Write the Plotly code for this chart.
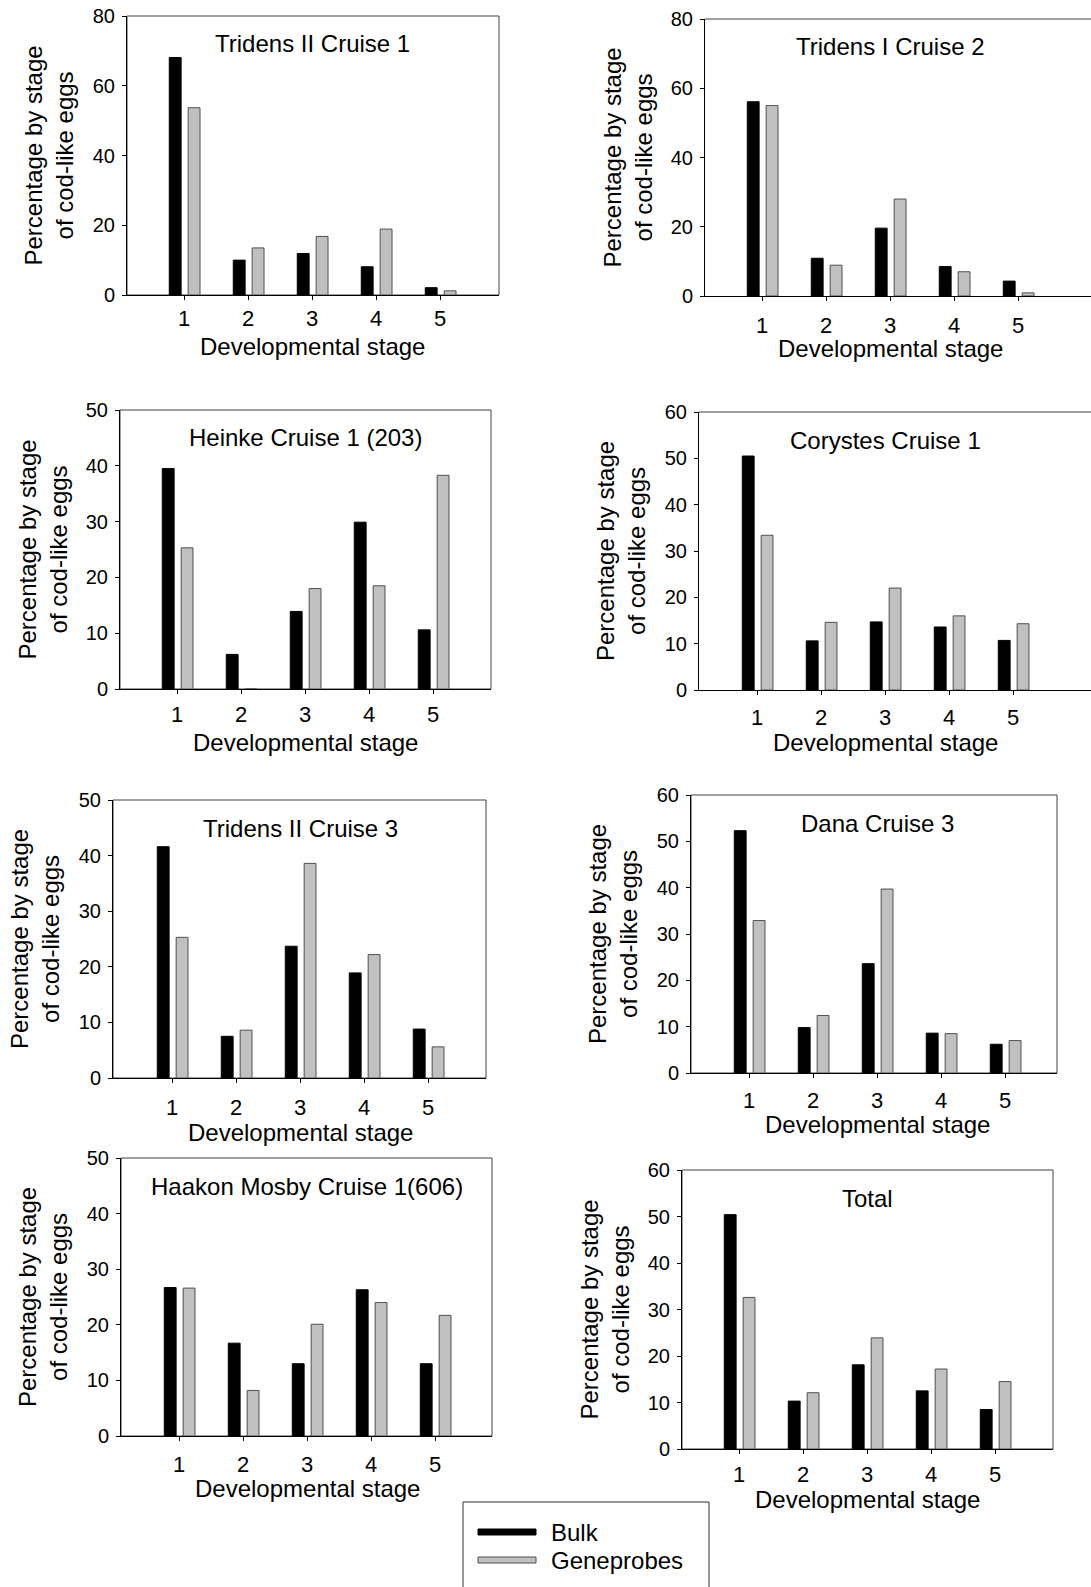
import plotly.graph_objects as go

W, H = 1091, 1587

stages = [1, 2, 3, 4, 5]

titles = ["Tridens II Cruise 1", "Tridens I Cruise 2", "Heinke Cruise 1 (203)",
          "Corystes Cruise 1", "Tridens II Cruise 3", "Dana Cruise 3",
          "Haakon Mosby Cruise 1(606)", "Total"]

bulk_tridens2_c1 = [68.1, 10.0, 11.9, 8.1, 2.1]
gene_tridens2_c1 = [53.7, 13.5, 16.8, 18.9, 1.2]
bulk_tridens1_c2 = [56.1, 10.9, 19.6, 8.5, 4.3]
gene_tridens1_c2 = [55.0, 8.9, 28.0, 7.0, 0.9]
bulk_heinke_c1 = [39.5, 6.2, 13.9, 29.9, 10.6]
gene_heinke_c1 = [25.3, 0.0, 18.0, 18.5, 38.3]
bulk_corystes_c1 = [50.5, 10.6, 14.7, 13.6, 10.7]
gene_corystes_c1 = [33.4, 14.6, 22.0, 16.0, 14.3]
bulk_tridens2_c3 = [41.6, 7.5, 23.7, 18.9, 8.8]
gene_tridens2_c3 = [25.3, 8.6, 38.6, 22.2, 5.6]
bulk_dana_c3 = [52.3, 9.8, 23.6, 8.6, 6.2]
gene_dana_c3 = [32.9, 12.4, 39.7, 8.5, 7.0]
bulk_haakon_c1 = [26.7, 16.7, 13.0, 26.3, 13.0]
gene_haakon_c1 = [26.6, 8.2, 20.1, 24.0, 21.7]
bulk_total = [50.4, 10.3, 18.1, 12.5, 8.5]
gene_total = [32.6, 12.1, 23.9, 17.2, 14.5]

bulk_series = [bulk_tridens2_c1, bulk_tridens1_c2, bulk_heinke_c1, bulk_corystes_c1,
               bulk_tridens2_c3, bulk_dana_c3, bulk_haakon_c1, bulk_total]
gene_series = [gene_tridens2_c1, gene_tridens1_c2, gene_heinke_c1, gene_corystes_c1,
               gene_tridens2_c3, gene_dana_c3, gene_haakon_c1, gene_total]
y_max = [80, 80, 50, 60, 50, 60, 50, 60]
y_dtick = [20, 20, 10, 10, 10, 10, 10, 10]

legend_names = ["Bulk", "Geneprobes"]

# layout boxes in pixels: left, right, top, bottom, x-pixel of stage 1, cut-off right side,
# tick-label offset below axis, axis-title offset below axis
boxes = [
    (127, 499, 16, 295, 184, False, 23, 52),
    (705, 1091, 19, 296, 762, True, 30, 52),
    (120, 491, 410, 689, 177, False, 26, 53),
    (699, 1091, 412, 690, 757, True, 28, 53),
    (113, 486, 800, 1078, 172, False, 30, 54),
    (691, 1057, 795, 1073, 749, False, 28, 51),
    (121, 492, 1158, 1436, 179, False, 29, 52),
    (682, 1053, 1170, 1449, 739, False, 26, 51),
]
PX_PER_STAGE = 64.0

FONT = "Liberation Sans, Arial, sans-serif"
fig = go.Figure()
layout = dict(width=W, height=H, margin=dict(l=0, r=0, t=0, b=0, pad=0),
              paper_bgcolor="white", plot_bgcolor="white", showlegend=False,
              font=dict(family=FONT, color="black", size=20))
annotations = []
shapes = []

for i in range(8):
    L, R, T, B, t1, cut, tl_off, xt_off = boxes[i]
    n = "" if i == 0 else str(i + 1)
    xa, ya = "x" + n, "y" + n
    fig.add_trace(go.Bar(x=stages, y=bulk_series[i], xaxis=xa, yaxis=ya, name=legend_names[0],
                         marker=dict(color="black", line=dict(color="black", width=1)),
                         width=0.185, offset=-0.23))
    fig.add_trace(go.Bar(x=stages, y=gene_series[i], xaxis=xa, yaxis=ya, name=legend_names[1],
                         marker=dict(color="#c0c0c0", line=dict(color="#505050", width=1)),
                         width=0.185, offset=0.065))
    xr = [1 + (L - t1) / PX_PER_STAGE, 1 + (R - t1) / PX_PER_STAGE]
    layout["xaxis" + n] = dict(domain=[L / W, R / W], range=xr, anchor=ya, automargin=False,
                               tickmode="array", tickvals=stages, ticktext=[str(s) for s in stages],
                               ticks="outside", ticklen=4, tickcolor="black",
                               showline=True, linecolor="black", linewidth=1,
                               showgrid=False, zeroline=False, fixedrange=True,
                               tickfont=dict(size=22), ticklabelstandoff=max(0, tl_off - 24))
    layout["yaxis" + n] = dict(domain=[1 - B / H, 1 - T / H], range=[0, y_max[i]], anchor=xa,
                               automargin=False, dtick=y_dtick[i], tick0=0,
                               ticks="outside", ticklen=4, tickcolor="black",
                               showline=True, linecolor="black", linewidth=1,
                               showgrid=False, zeroline=False, fixedrange=True,
                               tickfont=dict(size=20), ticklabelstandoff=3)
    # border (top / right)
    if cut:
        shapes.append(dict(type="line", xref=xa + " domain", yref=ya + " domain",
                           x0=0, x1=1, y0=1, y1=1, line=dict(color="#404040", width=1), layer="below"))
    else:
        shapes.append(dict(type="rect", xref=xa + " domain", yref=ya + " domain",
                           x0=0, x1=1, y0=0, y1=1, line=dict(color="#404040", width=1), layer="below"))
    # panel title
    annotations.append(dict(text=titles[i], xref=xa, yref=ya + " domain", x=3.0, y=1,
                            yshift=-28, xanchor="center", yanchor="middle", showarrow=False,
                            font=dict(size=24, family=FONT, color="black")))
    # x-axis title
    annotations.append(dict(text="Developmental stage", xref=xa, yref=ya + " domain", x=3.0, y=0,
                            yshift=-xt_off, xanchor="center", yanchor="middle", showarrow=False,
                            font=dict(size=24, family=FONT, color="black")))
    # y-axis title
    annotations.append(dict(text="Percentage by stage<br>of cod-like eggs", xref=xa + " domain",
                            yref=ya + " domain", x=0, y=0.5, xshift=-78, xanchor="center",
                            yanchor="middle", textangle=-90, showarrow=False,
                            font=dict(size=24, family=FONT, color="black")))

# legend box
shapes.append(dict(type="rect", xref="paper", yref="paper", x0=463 / W, x1=709 / W,
                   y0=1 - 1595 / H, y1=1 - 1502 / H, line=dict(color="#303030", width=1),
                   fillcolor="white"))
shapes.append(dict(type="rect", xref="paper", yref="paper", x0=478 / W, x1=536 / W,
                   y0=1 - 1535 / H, y1=1 - 1529 / H, line=dict(color="black", width=1),
                   fillcolor="black"))
shapes.append(dict(type="rect", xref="paper", yref="paper", x0=478 / W, x1=536 / W,
                   y0=1 - 1563 / H, y1=1 - 1557 / H, line=dict(color="#505050", width=1),
                   fillcolor="#c0c0c0"))
annotations.append(dict(text=legend_names[0], xref="paper", yref="paper", x=549 / W, y=1 - 1532 / H,
                        xanchor="left", yanchor="middle", showarrow=False,
                        font=dict(size=24, family=FONT, color="black")))
annotations.append(dict(text=legend_names[1], xref="paper", yref="paper", x=549 / W, y=1 - 1560 / H,
                        xanchor="left", yanchor="middle", showarrow=False,
                        font=dict(size=24, family=FONT, color="black")))

layout["annotations"] = annotations
layout["shapes"] = shapes
fig.update_layout(**layout)
fig.write_html("out.html")
